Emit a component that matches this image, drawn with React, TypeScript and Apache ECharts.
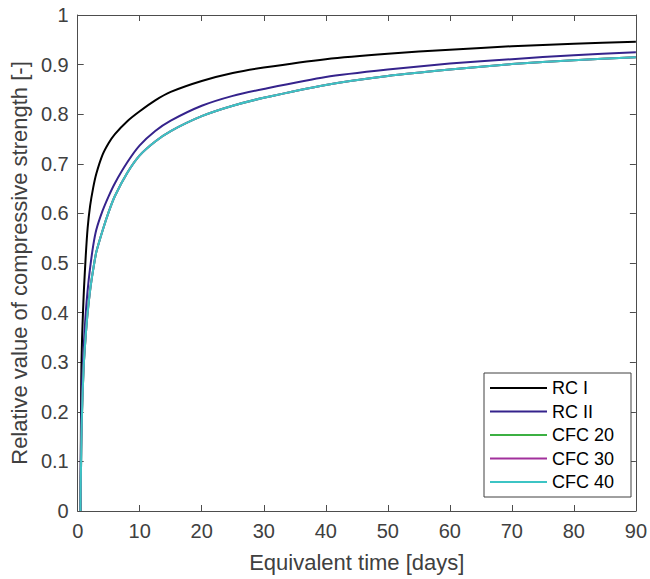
import React, { useEffect, useRef } from "react";
import * as echarts from "echarts";

const timeDays = [0.45, 0.5, 0.55, 0.6, 0.7, 0.85, 1, 1.3, 1.6, 2, 2.5, 3, 4, 5, 6, 8, 10, 12.5, 15, 20, 25, 30, 40, 50, 60, 70, 80, 90];
const rcI = [0, 0.12, 0.23, 0.29, 0.345, 0.4, 0.445, 0.515, 0.57, 0.615, 0.652, 0.68, 0.718, 0.742, 0.76, 0.786, 0.806, 0.828, 0.845, 0.867, 0.883, 0.894, 0.911, 0.922, 0.93, 0.937, 0.942, 0.946];
const rcII = [0, 0.1, 0.16, 0.2, 0.255, 0.3, 0.34, 0.4, 0.445, 0.49, 0.535, 0.567, 0.605, 0.635, 0.661, 0.703, 0.737, 0.766, 0.787, 0.817, 0.837, 0.851, 0.875, 0.89, 0.902, 0.911, 0.919, 0.925];
const cfc20 = [0, 0.06, 0.1, 0.14, 0.2, 0.255, 0.3, 0.355, 0.4, 0.445, 0.487, 0.522, 0.565, 0.603, 0.635, 0.682, 0.717, 0.745, 0.766, 0.796, 0.817, 0.833, 0.859, 0.877, 0.89, 0.901, 0.909, 0.915];
const cfc30 = [0, 0.06, 0.1, 0.14, 0.2, 0.255, 0.3, 0.355, 0.4, 0.445, 0.487, 0.522, 0.565, 0.603, 0.635, 0.682, 0.717, 0.745, 0.766, 0.796, 0.817, 0.833, 0.859, 0.877, 0.89, 0.901, 0.909, 0.915];
const cfc40 = [0, 0.06, 0.1, 0.14, 0.2, 0.255, 0.3, 0.355, 0.4, 0.445, 0.487, 0.522, 0.565, 0.603, 0.635, 0.682, 0.717, 0.745, 0.766, 0.796, 0.817, 0.833, 0.859, 0.877, 0.89, 0.901, 0.909, 0.915];

const seriesNames = ["RC I", "RC II", "CFC 20", "CFC 30", "CFC 40"];
const seriesValues = [rcI, rcII, cfc20, cfc30, cfc40];
const seriesColors = ["#000000", "#35238c", "#3cb043", "#a2309c", "#3cc4c4"];

const FONT = "'Liberation Sans', Arial, Helvetica, sans-serif";
const AXIS_COLOR = "#4d4d4d";
const TEXT_COLOR = "#404040";

export default function App() {
  const ref = useRef<HTMLDivElement>(null);
  useEffect(() => {
    if (!ref.current) return;
    const chart = echarts.init(ref.current, undefined, { renderer: "svg" });
    const axisCommon = {
      axisLine: { show: true, onZero: false, lineStyle: { color: AXIS_COLOR, width: 1 } },
      axisTick: { show: true, inside: true, length: 6, lineStyle: { color: AXIS_COLOR, width: 1 } },
      splitLine: { show: false },
    };
    chart.setOption({
      animation: false,
      backgroundColor: "#ffffff",
      textStyle: { fontFamily: FONT },
      grid: { left: 77, right: 11, top: 15, bottom: 68, containLabel: false },
      legend: {
        orient: "vertical",
        left: 484,
        top: 373,
        padding: [6, 17, 6, 6],
        itemGap: 5.5,
        itemWidth: 57,
        itemHeight: 2,
        icon: "rect",
        selectedMode: false,
        backgroundColor: "#ffffff",
        borderColor: "#404040",
        borderWidth: 1,
        textStyle: { fontSize: 18, lineHeight: 18, color: "#000000", fontFamily: FONT },
        data: seriesNames,
      },
      xAxis: [
        {
          type: "value",
          position: "bottom",
          min: 0,
          max: 90,
          interval: 10,
          ...axisCommon,
          axisLabel: { show: true, margin: 10, fontSize: 20, color: TEXT_COLOR, fontFamily: FONT },
          name: "Equivalent time [days]",
          nameLocation: "middle",
          nameGap: 40,
          nameTextStyle: { fontSize: 22, color: TEXT_COLOR, fontFamily: FONT },
        },
        {
          type: "value",
          position: "top",
          min: 0,
          max: 90,
          interval: 10,
          ...axisCommon,
          axisLabel: { show: false },
        },
      ],
      yAxis: [
        {
          type: "value",
          position: "left",
          min: 0,
          max: 1,
          interval: 0.1,
          ...axisCommon,
          axisLabel: { show: true, margin: 9, fontSize: 20, color: TEXT_COLOR, fontFamily: FONT },
          name: "Relative value of compressive strength [-]",
          nameLocation: "middle",
          nameGap: 47,
          nameTextStyle: { fontSize: 22, color: TEXT_COLOR, fontFamily: FONT },
        },
        {
          type: "value",
          position: "right",
          min: 0,
          max: 1,
          interval: 0.1,
          ...axisCommon,
          axisLabel: { show: false },
        },
      ],
      series: seriesNames.map((name, i) => ({
        name,
        type: "line",
        xAxisIndex: 0,
        yAxisIndex: 0,
        data: timeDays.map((t, j) => [t, seriesValues[i][j]]),
        smooth: 0.25,
        showSymbol: false,
        symbol: "none",
        color: seriesColors[i],
        itemStyle: { color: seriesColors[i] },
        lineStyle: { color: seriesColors[i], width: 2 },
        z: 2 + i,
      })),
    });
    return () => chart.dispose();
  }, []);
  return (
    <div
      ref={ref}
      style={{ position: "fixed", left: 0, top: 0, width: 650, height: 579, background: "#fff" }}
    />
  );
}
